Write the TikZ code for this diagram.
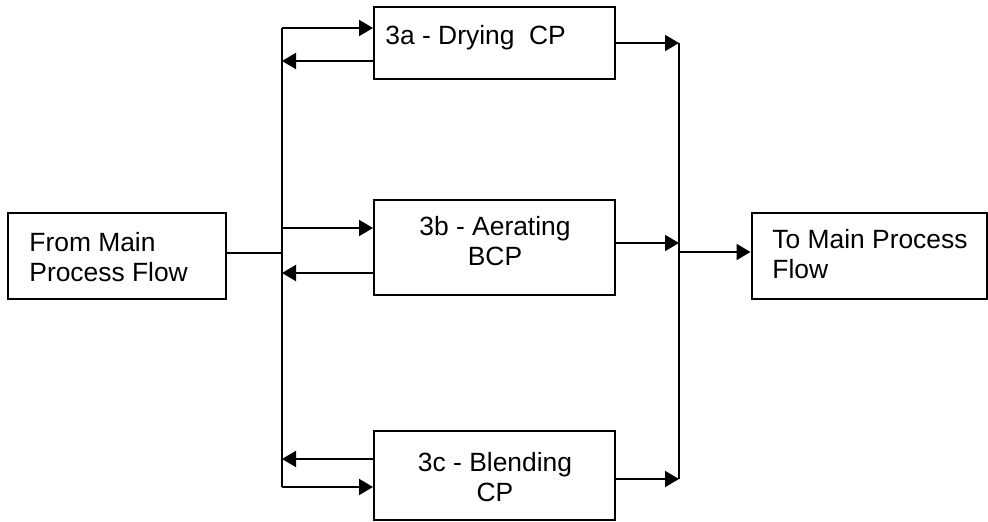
\documentclass[tikz,border=0pt]{standalone}
\usepackage{fontspec}
\setmainfont{Liberation Sans}
\usetikzlibrary{arrows.meta}
\begin{document}
\begin{tikzpicture}[x=0.5pt,y=-0.5pt,
  box/.style={draw,line width=1pt,inner sep=0pt,minimum width=0pt},
  txt/.style={inner sep=0pt,font=\fontsize{13.2}{14.75}\selectfont},
  ln/.style={line width=1pt},
  arr/.style={line width=1pt,-{Triangle[length=7pt,width=8pt]}}]
\useasboundingbox (0,0) rectangle (988,522);
% boxes
\node[box,minimum width=109pt,minimum height=43pt] (fm) at (117,256) {};
\node[box,minimum width=120.5pt,minimum height=36pt] (a) at (494.5,43) {};
\node[box,minimum width=120.5pt,minimum height=47.5pt] (b) at (494.5,247.5) {};
\node[box,minimum width=120.5pt,minimum height=44.5pt] (c) at (494.5,475.5) {};
\node[box,minimum width=117.5pt,minimum height=43pt] (tm) at (869,256) {};
% texts
\node[txt,anchor=north west,align=left] (fmt) at (29,232) {From Main\\Process Flow};
\node[txt,anchor=north west] (at) at (385,25) {3a - Drying\ \ CP};
\node[txt,anchor=north,align=center] (bt) at (495,216) {3b - Aerating\\BCP};
\node[txt,anchor=north,align=center] (ct) at (495,452) {3c - Blending\\CP};
\node[txt,anchor=north west,align=left] (tmt) at (772,229) {To Main Process\\Flow};
% left bus
\coordinate (L1) at (282,28);
\coordinate (L2) at (282,61);
\coordinate (L3) at (282,228);
\coordinate (L4) at (282,253);
\coordinate (L5) at (282,273);
\coordinate (L6) at (282,459);
\coordinate (L7) at (282,487);
\draw[ln] (L1) -- (L7);
\draw[ln] (fm.east |- L4) -- (L4);
\draw[arr] (L1) -- (L1 -| a.west);
\draw[arr] (L2 -| a.west) -- (L2);
\draw[arr] (L3) -- (L3 -| b.west);
\draw[arr] (L5 -| b.west) -- (L5);
\draw[arr] (L6 -| c.west) -- (L6);
\draw[arr] (L7) -- (L7 -| c.west);
% right bus
\coordinate (R1) at (679,43);
\coordinate (R2) at (679,243);
\coordinate (R3) at (679,252);
\coordinate (R4) at (679,479);
\draw[ln] (R1) -- (R4);
\draw[arr] (R1 -| a.east) -- (R1);
\draw[arr] (R2 -| b.east) -- (R2);
\draw[arr] (R4 -| c.east) -- (R4);
\draw[arr] (R3) -- (R3 -| tm.west);
\end{tikzpicture}
\end{document}
